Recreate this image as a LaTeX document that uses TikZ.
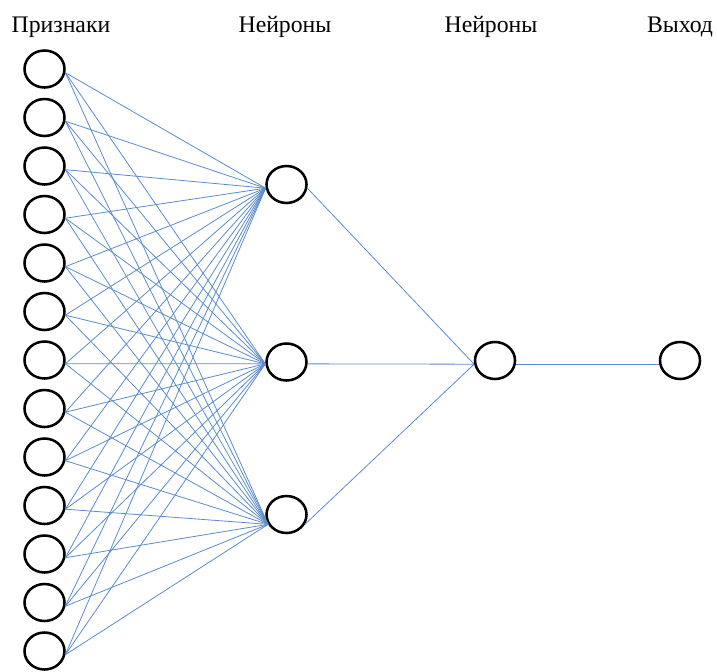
\documentclass[tikz,border=0pt]{standalone}
\usepackage{fontspec}
\setmainfont{Liberation Serif}
\usetikzlibrary{shapes.geometric}
\definecolor{linkblue}{RGB}{91,139,204}
\begin{document}
\begin{tikzpicture}[x=0.75pt,y=-0.75pt,
  neuron/.style={draw=black,line width=1.9pt,ellipse,inner sep=0pt,minimum width=30pt,minimum height=27.75pt},
  link/.style={draw=linkblue,line width=0.6pt},
  title/.style={anchor=base,font=\fontsize{17.8}{20}\selectfont,inner sep=0pt}]
\useasboundingbox (0,0) rectangle (717,671);
% titles
\node[title] (t1) at (61,32) {Признаки};
\node[title] (t2) at (285,32) {Нейроны};
\node[title] (t3) at (491,32) {Нейроны};
\node[title] (t4) at (680,32) {Выход};
% layers
\node[neuron] (h1) at (286.5,184.5) {};
\node[neuron] (h2) at (286.5,362) {};
\node[neuron] (h3) at (286.5,514.5) {};
\node[neuron] (o1) at (495,360.5) {};
\node[neuron] (o2) at (680,360.5) {};
\foreach \i in {0,...,12}{
  \node[neuron] (in\i) at (44.5,{69+48.5*\i}) {};
}
% connectors
\foreach \i in {0,...,12}{
  \draw[link] (in\i.350) -- (h1.190);
  \draw[link] (in\i.350) -- (h2.185);
  \draw[link] (in\i.350) -- (h3.208);
}
\draw[link] (h1.350) -- (o1.190);
\draw[link] (h2.355) -- (o1.190);
\draw[link] (h3.332) -- (o1.190);
\draw[link] (o1.350) -- (o2.190);
\end{tikzpicture}
\end{document}
